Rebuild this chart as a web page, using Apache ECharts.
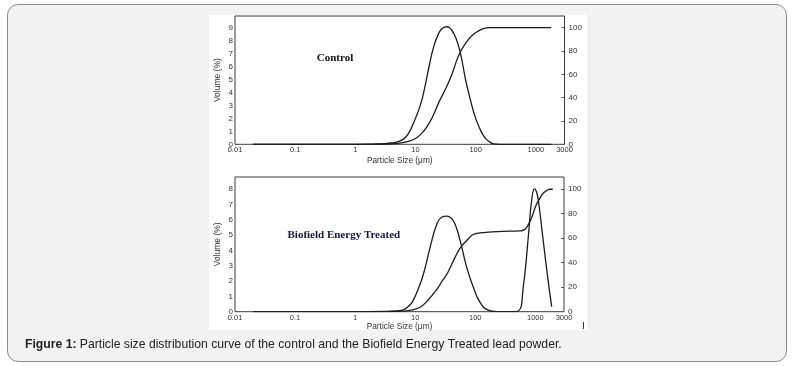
<!DOCTYPE html>
<html><head><meta charset="utf-8">
<script src="https://cdn.jsdelivr.net/npm/echarts@6/dist/echarts.min.js"></script>
<style>
html,body{margin:0;padding:0;background:#fff;width:793px;height:366px;overflow:hidden;}
#frame{position:absolute;left:7px;top:4px;width:780px;height:358px;border:1.5px solid #8c8c8c;border-radius:11px;background:#f2f2f2;box-sizing:border-box;}
#fig{position:absolute;left:209px;top:15px;width:378px;height:315px;background:#fff;}
#chart{position:absolute;left:0;top:0;width:793px;height:366px;}
</style></head>
<body>
<div id="frame"></div><div id="fig"></div><div id="chart"></div>
<script>
// ---- data ----
const xTickLabels = [0.01, 0.1, 1, 10, 100, 1000, 3000];
const leftTicksTop = [0,1,2,3,4,5,6,7,8,9];
const leftTicksBottom = [0,1,2,3,4,5,6,7,8];
const rightTicks = [0,20,40,60,80,100];

const controlSizes  = [0.02, 1, 2, 3, 4, 5, 6, 7, 8, 9, 10, 12, 14, 17, 20, 24, 28, 34, 40, 47, 56, 68, 80, 90, 100, 115, 130, 150, 175, 200, 250, 1800];
const controlVolume = [0, 0, 0.02, 0.05, 0.1, 0.18, 0.35, 0.6, 1.0, 1.5, 2.0, 3.0, 4.2, 6.1, 7.5, 8.5, 8.95, 9.07, 8.8, 8.2, 7.0, 5.0, 3.6, 2.7, 2.0, 1.3, 0.8, 0.4, 0.15, 0.03, 0, 0];

const controlCumSizes   = [0.02, 1, 3, 5, 7, 10, 13, 15, 19, 25, 32, 41, 52, 68, 88, 114, 140, 170, 1800];
const controlCumulative = [0, 0, 0.2, 0.8, 2, 5, 10, 14, 23, 37, 48, 61, 76, 86.5, 93.5, 97.5, 99.3, 100, 100];

const treatedSizes  = [0.02, 1, 3, 5, 6.3, 8, 9.2, 11, 13.7, 17.7, 22.8, 27.5, 34, 40, 46, 56, 72, 93, 120, 165, 228, 400, 520, 630, 764, 870, 970, 1040, 1120, 1270, 1550, 1870];
const treatedVolume = [0, 0, 0.02, 0.06, 0.12, 0.4, 0.72, 1.4, 2.46, 4.2, 5.7, 6.17, 6.25, 6.1, 5.73, 4.64, 2.9, 1.6, 0.61, 0.1, 0, 0, 0.05, 1.63, 4.9, 7.3, 8.02, 7.85, 7.3, 5.55, 2.72, 0.33];

const treatedCumSizes   = [0.02, 1, 3, 6.3, 9, 12, 16, 22.8, 28, 34, 40, 46.7, 56, 72, 98, 150, 280, 560, 650, 720, 800, 870, 960, 1050, 1200, 1350, 1550, 1750, 1950];
const treatedCumulative = [0, 0, 0.1, 0.5, 1.5, 3.6, 9, 18, 25, 31, 38, 45, 52, 58, 63.5, 64.8, 65.6, 66, 66.8, 69, 73, 77, 83, 88, 93, 96.7, 99, 100, 100];

// ---- chart ----
const FONT = '"Liberation Sans", Arial, sans-serif';
const INK = '#1c1c1c';
const pairs = (xs, ys) => xs.map((x, i) => [x, ys[i]]);

function xAx(gridIndex, nameGap) {
  return {
    type: 'log', logBase: 10, gridIndex, min: 0.01, max: 3000,
    name: 'Particle Size (μm)', nameLocation: 'middle', nameGap,
    nameTextStyle: { fontSize: 8.3, color: '#333', fontFamily: FONT },
    axisLine: { show: false }, axisTick: { show: false }, splitLine: { show: false }, minorTick: { show: false },
    axisLabel: { fontSize: 7.5, color: '#333', margin: 2, fontFamily: FONT,
      customValues: xTickLabels, formatter: v => String(+Number(v).toPrecision(6)) }
  };
}
function yLeft(gridIndex, max, ticks) {
  return {
    type: 'value', gridIndex, position: 'left', min: 0, max, interval: 1,
    name: 'Volume (%)', nameLocation: 'middle', nameGap: 13, nameRotate: 90,
    nameTextStyle: { fontSize: 8.5, color: '#333', fontFamily: FONT },
    axisLine: { show: false }, axisTick: { show: false }, splitLine: { show: false },
    axisLabel: { fontSize: 8, color: '#333', margin: 2, fontFamily: FONT, customValues: ticks }
  };
}
function yRight(gridIndex) {
  return {
    type: 'value', gridIndex, position: 'right', min: 0, max: 110, interval: 20,
    axisLine: { show: false }, splitLine: { show: false },
    axisTick: { show: true, inside: true, length: 3, lineStyle: { color: '#555' }, customValues: rightTicks },
    axisLabel: { fontSize: 8, color: '#333', margin: 4, fontFamily: FONT, customValues: rightTicks }
  };
}
function line(data, xAxisIndex, yAxisIndex) {
  return { type: 'line', data, xAxisIndex, yAxisIndex, showSymbol: false, symbol: 'none',
    smooth: 0.5, lineStyle: { color: INK, width: 1.3 }, silent: true, animation: false };
}

const chart = echarts.init(document.getElementById('chart'), null, { renderer: 'canvas' });
chart.setOption({
  animation: false,
  grid: [
    { left: 235, top: 16, width: 329.5, height: 128.3, show: true, borderColor: '#3a3a3a', borderWidth: 1, backgroundColor: 'transparent' },
    { left: 235, top: 177, width: 329, height: 134.7, show: true, borderColor: '#3a3a3a', borderWidth: 1, backgroundColor: 'transparent' }
  ],
  xAxis: [xAx(0, 12.5), xAx(1, 7.5)],
  yAxis: [yLeft(0, 9.9, leftTicksTop), yRight(0), yLeft(1, 8.8, leftTicksBottom), yRight(1)],
  series: [
    line(pairs(controlSizes, controlVolume), 0, 0),
    line(pairs(controlCumSizes, controlCumulative), 0, 1),
    line(pairs(treatedSizes, treatedVolume), 1, 2),
    line(pairs(treatedCumSizes, treatedCumulative), 1, 3)
  ],
  graphic: [
    { type: 'text', x: 335, y: 58, style: { text: 'Control', font: 'bold 11px "Liberation Serif", "Times New Roman", serif', fill: '#111', align: 'center', verticalAlign: 'middle' } },
    { type: 'text', x: 287.5, y: 235, style: { text: 'Biofield Energy Treated', font: 'bold 11px "Liberation Serif", "Times New Roman", serif', fill: '#15173a', align: 'left', verticalAlign: 'middle' } },
    { type: 'line', shape: { x1: 583.5, y1: 322, x2: 583.5, y2: 329 }, style: { stroke: '#333', lineWidth: 1 } },
    { type: 'text', x: 25, y: 345, style: {
        text: '{b|Figure 1:} {n|Particle size distribution curve of the control and the Biofield Energy Treated lead powder.}',
        verticalAlign: 'middle', align: 'left',
        rich: {
          b: { font: 'bold 12.2px "Liberation Sans", Arial, sans-serif', fill: '#222' },
          n: { font: '12.2px "Liberation Sans", Arial, sans-serif', fill: '#222' }
        } } }
  ]
});
</script>
</body></html>
